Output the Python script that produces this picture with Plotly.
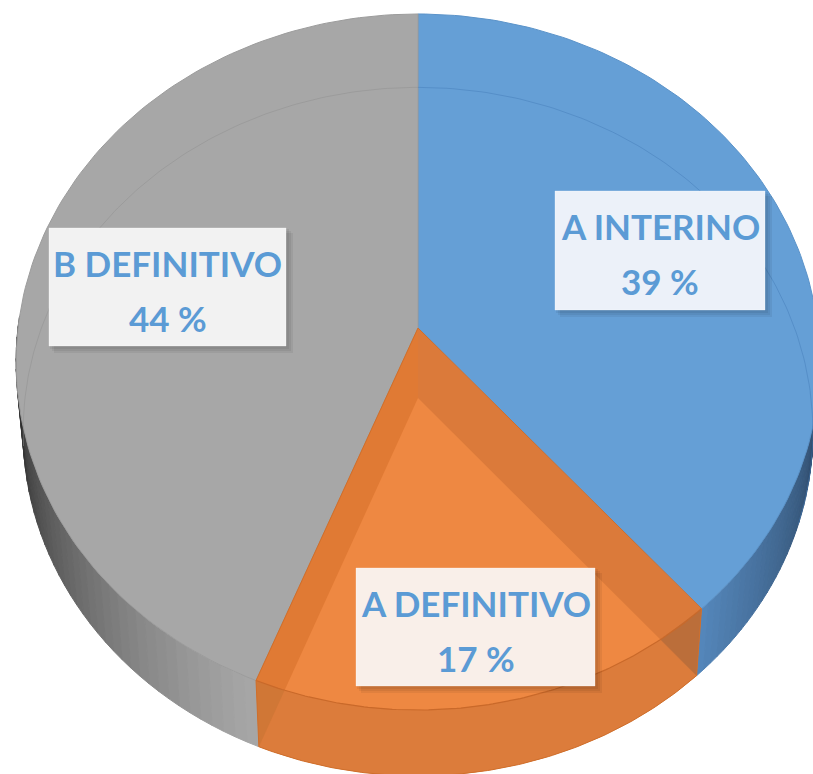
import math
import plotly.graph_objects as go

categories = ["A INTERINO", "A DEFINITIVO", "B DEFINITIVO"]
shares = [38.6, 17.4, 44.0]
top_colors = ["#659fd6", "#db7a3a", "#a7a7a7"]

# projection of the tilted disc: (centre x, apex y, x scale, y scale, perspective)
TOP = (418, 328, 400, 344.7, 0.0977)
BASE = (418, 398, 393, 341, 0.0977)


def project(model, deg, r=1.0):
    cx, cy, a, c, b = model
    t = math.radians(deg)
    u, v = r * math.sin(t), r * math.cos(t)
    w = 1 + b * v
    return (cx + a * u / w, cy - c * v / w)


def arc(model, d0, d1, n=120):
    return [project(model, d0 + (d1 - d0) * i / n) for i in range(n + 1)]


def wedge(model, d0, d1):
    return [(model[0], model[1])] + arc(model, d0, d1)


def clip(subject, clipper):
    """Clip a convex polygon by another convex polygon."""
    area = sum(clipper[i][0] * clipper[(i + 1) % len(clipper)][1]
               - clipper[(i + 1) % len(clipper)][0] * clipper[i][1] for i in range(len(clipper)))
    sign = 1 if area > 0 else -1
    out = subject
    for i in range(len(clipper)):
        A, B = clipper[i], clipper[(i + 1) % len(clipper)]
        side = lambda P: sign * ((B[0] - A[0]) * (P[1] - A[1]) - (B[1] - A[1]) * (P[0] - A[0]))
        inp, out = out, []
        for j in range(len(inp)):
            P, Q = inp[j], inp[(j + 1) % len(inp)]
            sp, sq = side(P), side(Q)
            if sp >= 0:
                out.append(P)
            if sp * sq < 0:
                k = sp / (sp - sq)
                out.append((P[0] + k * (Q[0] - P[0]), P[1] + k * (Q[1] - P[1])))
        if not out:
            break
    return out


fig = go.Figure()


def poly(pts, fill, line=None, width=0, close=True):
    pts = list(pts)
    if close:
        pts = pts + [pts[0]]
    fig.add_trace(go.Scatter(
        x=[p[0] for p in pts], y=[p[1] for p in pts], mode="lines",
        fill="toself" if fill else "none", fillcolor=fill,
        line=dict(color=line or fill or "rgba(0,0,0,0)", width=width),
        hoverinfo="skip", showlegend=False))


def mix(c0, c1, t):
    return "rgb(%d,%d,%d)" % tuple(round(c0[i] + (c1[i] - c0[i]) * t) for i in range(3))


edges = [0]
for s in shares:
    edges.append(edges[-1] + s * 3.6)
blue0, blue1 = edges[0], edges[1]
or0, or1 = edges[1], edges[2]
gr0, gr1 = edges[2], edges[3]

# outer walls with a shaded gradient
STEPS = 40
for i in range(STEPS):
    d0 = gr0 + (272 - gr0) * i / STEPS
    d1 = gr0 + (272 - gr0) * (i + 1) / STEPS
    col = mix((166, 166, 166), (30, 30, 30), (i / (STEPS - 1)) ** 1.1)
    poly(arc(TOP, d0, d1, 3) + arc(BASE, d1, d0, 3), col, col, 1)
for i in range(STEPS):
    d0 = blue1 + (85 - blue1) * i / STEPS
    d1 = blue1 + (85 - blue1) * (i + 1) / STEPS
    col = mix((84, 134, 186), (35, 55, 80), (i / (STEPS - 1)) ** 0.9)
    poly(arc(TOP, d0, d1, 3) + arc(BASE, d1, d0, 3), col, col, 1)

# orange wall: full translucent-looking body of the slice
poly(arc(TOP, or0, or1) + arc(BASE, or1, or0), "#dc7c3b")
poly(wedge(BASE, or0, or1), "#dc7c3b")

# top faces
poly(wedge(TOP, blue0, blue1), top_colors[0], "#5b93c9", 1)
poly(wedge(TOP, gr0, gr1), top_colors[2], "#9c9c9c", 1)
top_or = wedge(TOP, or0, or1)
base_or = wedge(BASE, or0, or1)
poly(top_or, top_colors[1])
poly(wedge(TOP, 180, or1), "#e07a34")

# overlap of the upper slice and the lower slice seen through it
poly(clip(base_or, top_or), "#ee8842")

# darker corners where the slice's end faces show through
TR, TL = project(TOP, or0), project(TOP, or1)
BR, BL = project(BASE, or0), project(BASE, or1)
overlap = clip(base_or, top_or)
right_pt = max(overlap, key=lambda p: p[0])
left_pt = min(overlap, key=lambda p: p[0])
poly([TR, BR, right_pt], "#bb6e3a")
poly([TL, BL, left_pt], "#d07736")

# slice outlines
poly(arc(TOP, or0, or1), None, "#c9692a", 1.2, close=False)
poly([TL, (TOP[0], TOP[1]), TR], None, "#cf6f2c", 1, close=False)
poly([TR, BR], None, "#cf6f2c", 1, close=False)
poly([TL, BL], None, "#cf6f2c", 1, close=False)
poly(arc(BASE, or0, or1), None, "#cf6f2c", 1, close=False)

# lower rim seen through the upper faces
poly(arc(BASE, 0, blue1 - 28), None, "rgba(70,125,185,0.5)", 1, close=False)
poly(arc(BASE, 262, 360), None, "rgba(145,145,145,0.55)", 1, close=False)

# label boxes: left, top, right, bottom
label_boxes = [(555, 191, 765, 310), (356, 568, 595, 686), (49, 228, 286, 346)]
box_fill = ["#ecf1f9", "#f9efe9", "#f2f2f2"]
shapes, annotations = [], []
FONT = dict(family="Lato", size=35, color="#5b9bd5", weight="bold")
for cat, val, box, fc in zip(categories, shares, label_boxes, box_fill):
    x0, y0, x1, y1 = box
    for off in (7, 5, 3):
        shapes.append(dict(type="rect", x0=x0 + off - 2, y0=y0 + off - 2, x1=x1 + off, y1=y1 + off,
                           fillcolor="rgba(0,0,0,0.06)", line_width=0, layer="above"))
    shapes.append(dict(type="rect", x0=x0, y0=y0, x1=x1, y1=y1, fillcolor=fc,
                       line=dict(color="rgba(255,255,255,0.3)", width=1), layer="above"))
    xc = (x0 + x1) / 2
    annotations.append(dict(x=xc, y=y0 + 35, text=cat, showarrow=False, font=FONT,
                            xanchor="center", yanchor="middle"))
    annotations.append(dict(x=xc, y=y0 + 90, text=f"{round(val)} %", showarrow=False, font=FONT,
                            xanchor="center", yanchor="middle"))

fig.update_layout(
    width=813, height=774, margin=dict(l=0, r=0, t=0, b=0),
    paper_bgcolor="white", plot_bgcolor="white", showlegend=False,
    xaxis=dict(range=[0, 813], visible=False, fixedrange=True),
    yaxis=dict(range=[774, 0], visible=False, fixedrange=True),
    shapes=shapes, annotations=annotations,
)
fig.write_html("out.html", config=dict(displayModeBar=False),
               post_script="document.body.style.margin='0';document.body.style.overflow='hidden';")
